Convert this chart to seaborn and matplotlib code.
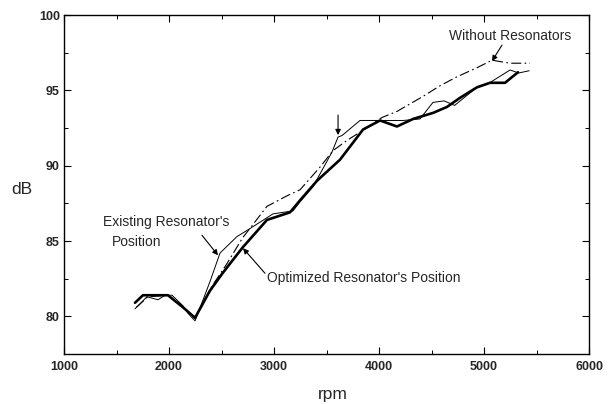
import matplotlib
matplotlib.use("Agg")
import matplotlib.pyplot as plt
import seaborn as sns
import pandas as pd
from matplotlib.ticker import MultipleLocator

# ---- data ----
opt_rpm = [1676, 1752, 1990, 2133, 2248, 2390, 2514, 2705, 2933, 3152, 3248, 3410,
           3629, 3848, 4010, 4171, 4324, 4514, 4648, 4771, 4933, 5057, 5200, 5324]
opt_db = [80.9, 81.4, 81.4, 80.6, 79.9, 81.7, 82.9, 84.6, 86.4, 86.9, 87.7, 89.0,
          90.4, 92.4, 93.0, 92.6, 93.1, 93.5, 93.9, 94.5, 95.2, 95.5, 95.5, 96.2]

exist_rpm = [1676, 1790, 1895, 1962, 2029, 2133, 2181, 2248, 2390, 2486, 2648, 2743,
             2990, 3181, 3248, 3371, 3450, 3552, 3610, 3648, 3819, 4010, 4229, 4390,
             4514, 4620, 4720, 4933, 5030, 5248, 5330, 5430]
exist_db = [80.5, 81.3, 81.1, 81.4, 81.4, 80.7, 80.2, 79.7, 82.3, 84.2, 85.3, 85.7,
            86.8, 87.0, 87.6, 88.6, 89.6, 90.9, 91.9, 92.0, 93.0, 93.0, 93.0, 93.1,
            94.2, 94.3, 94.0, 95.2, 95.4, 96.35, 96.15, 96.3]

without_rpm = [1690, 1800, 1990, 2130, 2248, 2400, 2552, 2700, 2933, 3124, 3248, 3438,
               3562, 3700, 3860, 4029, 4171, 4270, 4420, 4580, 4743, 4933, 5076, 5248, 5438]
without_db = [80.6, 81.3, 81.4, 80.6, 79.9, 81.9, 83.5, 85.2, 87.3, 88.0, 88.4, 89.9,
              91.0, 91.7, 92.4, 93.2, 93.6, 94.0, 94.6, 95.3, 95.9, 96.5, 97.0, 96.8, 96.8]

x_ticks = [1000, 2000, 3000, 4000, 5000, 6000]
y_ticks = [80, 85, 90, 95, 100]

# ---- style ----
sns.set_style("ticks")
plt.rcParams["font.family"] = ["Liberation Sans", "DejaVu Sans"]

fig = plt.figure(figsize=(6.16, 4.04), dpi=100)
ax = fig.add_axes([64 / 616, 1 - 354 / 404, (589 - 64) / 616, (354 - 15) / 404])

df_opt = pd.DataFrame({"rpm": opt_rpm, "dB": opt_db})
df_exist = pd.DataFrame({"rpm": exist_rpm, "dB": exist_db})
df_without = pd.DataFrame({"rpm": without_rpm, "dB": without_db})

sns.lineplot(data=df_without, x="rpm", y="dB", ax=ax, color="black", lw=0.8,
             linestyle=(0, (9, 3, 1.5, 3)), sort=False)
sns.lineplot(data=df_exist, x="rpm", y="dB", ax=ax, color="black", lw=0.7, sort=False)
sns.lineplot(data=df_opt, x="rpm", y="dB", ax=ax, color="black", lw=1.9, sort=False)

ax.set_xlim(1000, 6000)
ax.set_ylim(77.5, 100)
ax.set_xticks(x_ticks)
ax.set_yticks(y_ticks)
ax.xaxis.set_minor_locator(MultipleLocator(500))
ax.yaxis.set_minor_locator(MultipleLocator(2.5))
ax.set_xticklabels([str(v) for v in x_ticks], fontsize=9, fontweight="bold")
ax.set_yticklabels([str(v) for v in y_ticks], fontsize=9, fontweight="bold")
ax.tick_params(which="major", direction="in", top=True, right=True, length=5,
               width=0.8, color="black", pad=3)
ax.tick_params(which="minor", direction="in", top=True, right=True, length=3,
               width=0.7, color="black")
ax.tick_params(axis="x", pad=5)
for s in ax.spines.values():
    s.set_visible(True)
    s.set_color("black")
    s.set_linewidth(1.0)
ax.set_xlabel("")
ax.set_ylabel("")

fig.text(22 / 616, 1 - 189 / 404, "dB", ha="center", va="center", fontsize=12.5)
fig.text(333 / 616, 1 - 395 / 404, "rpm", ha="center", va="center", fontsize=12.5)

aprops = dict(arrowstyle="-|>", color="black", lw=0.8, mutation_scale=8,
              shrinkA=0, shrinkB=0)
ax.text(5248, 98.6, "Without Resonators", ha="center", va="center", fontsize=10)
ax.annotate("", xy=(5076, 96.94), xytext=(5171, 98.0), arrowprops=aprops)

ax.text(1371, 86.25, "Existing Resonator's", ha="left", va="center", fontsize=10)
ax.text(1457, 84.92, "Position", ha="left", va="center", fontsize=10)
ax.annotate("", xy=(2467, 84.05), xytext=(2314, 85.38), arrowprops=aprops)

ax.text(2933, 82.52, "Optimized Resonator's Position", ha="left", va="center", fontsize=10)
ax.annotate("", xy=(2705, 84.52), xytext=(2914, 82.86), arrowprops=aprops)

ax.annotate("", xy=(3610, 92.03), xytext=(3610, 93.36), arrowprops=aprops)

fig.savefig("out.png", dpi=100, facecolor="white")
